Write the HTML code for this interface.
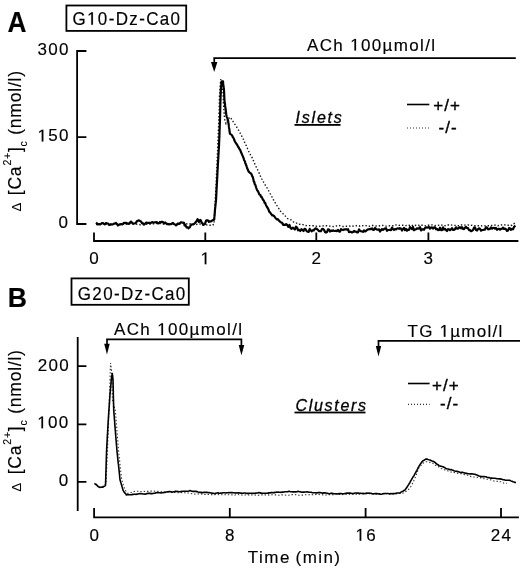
<!DOCTYPE html>
<html><head><meta charset="utf-8"><style>
html,body{margin:0;padding:0;background:#fff}
#w{position:relative;width:520px;height:569px;overflow:hidden;background:#fff;filter:grayscale(1)}
</style></head><body><div id="w">
<svg width="520" height="569" viewBox="0 0 520 569" style="position:absolute;left:0;top:0;font-family:'Liberation Sans',sans-serif">
<defs><style>
.one{fill:transparent;stroke:none}
text{stroke:#000;stroke-width:0.15px}
.br{stroke:#000;stroke-width:1.7;fill:none}
.ax{stroke:#000;stroke-width:1.8;fill:none;stroke-linecap:square}
.t{font-size:17px;letter-spacing:1.35px;fill:#000}
.lab{font-size:17px;letter-spacing:1.3px;fill:#000}
.lg{font-size:17px;letter-spacing:1px;stroke:#000;stroke-width:0.35px}
.sol{stroke:#000;stroke-width:2.2;fill:none;stroke-linejoin:round}
.dot{stroke:#111;stroke-width:1.4;fill:none;stroke-dasharray:1.4 2}
</style></defs>
<!-- Panel A -->
<text transform="translate(7.6,31.8) scale(0.92,1)" style="font-size:28.6px;font-weight:bold">A</text>
<rect x="66.4" y="5.5" width="119.8" height="25.4" fill="none" stroke="#000" stroke-width="1.8"/>
<text class="t" transform="translate(72.5 24.8) scale(1 1.065)">G<tspan class="one" id="one0">1</tspan>0-Dz-Ca0</text>
<path class="ax" d="M77.1,51 V224 M77.1,51 H85.5 M77.1,137.2 H85.5 M77.1,224 H85.5"/>
<text class="lab" x="69.8" y="54.8" text-anchor="end">300</text>
<text class="lab" x="69.8" y="141.4" text-anchor="end"><tspan class="one" id="one1">1</tspan>50</text>
<text class="lab" x="69.3" y="228" text-anchor="end">0</text>
<path class="ax" d="M94,241 H517.5 M94,241 V233.5 M205.3,241 V233.5 M316.3,241 V233.5 M428.4,241 V233.5"/>
<text class="lab" x="94.6" y="264.2" text-anchor="middle">0</text>
<text class="lab" x="205.9" y="264.2" text-anchor="middle"><tspan class="one" id="one2">1</tspan></text>
<text class="lab" x="316.9" y="264.2" text-anchor="middle">2</text>
<text class="lab" x="429" y="264.2" text-anchor="middle">3</text>
<path class="br" d="M213.3,58.05 H515.8 M214.25,57.2 V63" />
<path d="M211,62 L217.4,62 L214.2,72 Z" fill="#000"/>
<text class="t" x="307" y="50.6">ACh <tspan class="one" id="one3">1</tspan>00µmol/l</text>
<text x="295.5" y="123" style="font-size:16px;font-style:italic;letter-spacing:1.8px;stroke-width:0.3px">Islets</text>
<rect x="294.5" y="124" width="46" height="1.8" fill="#000"/>
<path d="M407,104.5 H429.3" stroke="#000" stroke-width="1.6"/>
<text x="433.3" y="111" class="lg">+/+</text>
<path d="M407,128 H429" stroke="#333" stroke-width="1.2" stroke-dasharray="1 2"/>
<text x="438.5" y="133" class="lg">-/-</text>
<polyline class="dot" points="96.0,224.6 97.0,224.4 98.0,224.7 99.0,224.5 100.0,224.2 101.0,223.8 102.0,223.3 103.0,223.5 104.0,223.4 105.0,223.3 106.0,223.6 107.0,224.0 108.0,224.3 109.0,224.4 110.0,224.3 111.0,224.5 112.0,224.4 113.0,224.4 114.0,224.1 115.0,224.0 116.0,223.8 117.0,223.8 118.0,223.9 119.0,224.1 120.0,224.2 121.0,224.0 122.0,224.1 123.0,224.1 124.0,223.9 125.0,223.9 126.0,224.1 127.0,223.8 128.0,223.8 129.0,223.5 130.0,223.6 131.0,223.7 132.0,223.8 133.0,223.8 134.0,223.9 135.0,223.9 136.0,223.9 137.0,224.2 138.0,224.2 139.0,224.5 140.0,224.7 141.0,224.7 142.0,224.6 143.0,224.6 144.0,224.6 145.0,224.2 146.0,224.2 147.0,224.1 148.0,223.9 149.0,223.8 150.0,224.0 151.0,223.8 152.0,223.8 153.0,223.9 154.0,223.7 155.0,223.5 156.0,223.6 157.0,223.4 158.0,223.3 159.0,223.5 160.0,223.5 161.0,223.7 162.0,224.1 163.0,224.0 164.0,223.7 165.0,223.8 166.0,223.8 167.0,223.8 168.0,223.8 169.0,224.1 170.0,224.1 171.0,224.4 172.0,224.3 173.0,224.3 174.0,223.9 175.0,224.1 176.0,223.9 177.0,224.1 178.0,223.9 179.0,223.8 180.0,223.8 181.0,223.6 182.0,223.4 183.0,223.3 184.0,223.4 185.0,223.8 186.0,223.8 187.0,223.9 188.0,223.7 189.0,223.4 190.0,223.8 191.0,224.0 192.0,224.1 193.0,224.2 194.0,224.4 195.0,224.6 196.0,224.6 197.0,224.3 198.0,224.2 199.0,224.0 200.0,224.0 201.0,223.8 202.0,224.2 203.0,224.6 204.0,224.7 205.0,224.8 206.0,224.9 207.0,224.9 208.0,225.0 209.0,225.1 210.0,225.3 211.0,225.3 212.0,225.5 213.0,224.8 214.0,224.4 214.1,223.6 214.1,222.3 214.2,221.4 214.2,220.3 214.3,219.3 214.3,218.6 214.4,217.6 214.4,216.5 214.5,215.3 214.5,214.3 214.6,213.3 214.6,212.5 214.7,211.5 214.7,210.4 214.8,209.4 214.8,208.2 214.9,207.4 214.9,206.5 215.0,205.5 215.1,204.2 215.1,203.4 215.2,202.4 215.2,201.3 215.2,200.5 215.3,199.3 215.3,198.4 215.4,197.3 215.4,196.5 215.5,195.4 215.6,194.4 215.6,193.2 215.7,192.3 215.7,191.2 215.8,190.4 215.8,189.5 215.8,188.2 215.9,187.3 215.9,186.3 216.0,185.3 216.1,184.4 216.1,183.5 216.2,182.4 216.2,181.3 216.2,180.5 216.3,179.3 216.3,178.4 216.4,177.4 216.4,176.4 216.5,175.4 216.5,174.2 216.6,173.4 216.6,172.3 216.7,171.4 216.7,170.5 216.8,169.4 216.8,168.1 216.9,167.3 216.9,166.4 216.9,165.5 217.0,164.4 217.0,163.4 217.1,162.2 217.1,161.5 217.2,160.4 217.2,159.4 217.2,158.5 217.3,157.5 217.3,156.2 217.4,155.4 217.4,154.4 217.5,153.2 217.5,152.4 217.6,151.4 217.6,150.2 217.6,149.4 217.7,148.2 217.7,147.4 217.8,146.3 217.8,145.2 217.8,144.4 217.9,143.3 217.9,142.2 218.0,141.5 218.0,140.2 218.0,139.2 218.1,138.3 218.1,137.5 218.2,136.4 218.2,135.4 218.2,134.3 218.3,133.4 218.3,132.3 218.4,131.3 218.4,130.3 218.4,129.2 218.5,128.2 218.5,127.4 218.6,126.2 218.6,125.4 218.6,124.4 218.7,123.3 218.7,122.4 218.8,121.4 218.8,120.5 218.8,119.2 218.9,118.2 218.9,117.3 218.9,116.3 218.9,115.3 219.0,114.2 219.0,113.4 219.0,112.5 219.1,111.3 219.1,110.3 219.1,109.3 219.1,108.3 219.2,107.5 219.2,106.2 219.2,105.4 219.2,104.3 219.3,103.3 219.3,102.4 219.3,101.1 219.4,100.4 219.4,99.2 219.4,98.3 219.4,97.4 219.5,96.3 219.5,95.2 219.6,94.3 219.7,93.0 219.7,92.2 219.8,91.0 219.9,90.0 220.0,89.1 220.1,88.0 220.1,86.9 220.2,85.8 220.3,84.7 220.4,83.7 220.5,82.6 220.5,81.6 220.6,80.8 220.7,79.4 221.3,80.8 222.0,81.8 222.1,82.8 222.2,83.8 222.3,84.7 222.4,85.9 222.5,86.8 222.6,88.0 222.7,88.9 222.8,90.2 222.9,91.2 222.9,92.0 223.0,93.1 223.0,94.2 223.1,95.0 223.1,96.0 223.2,97.0 223.2,98.0 223.3,99.2 223.3,100.1 223.4,101.1 223.4,102.3 223.5,103.1 223.5,104.3 223.6,105.3 223.7,106.2 223.7,107.4 223.8,108.2 223.9,109.4 223.9,110.5 224.0,111.3 224.1,112.4 224.2,113.5 224.2,114.5 224.3,115.5 224.4,116.5 224.4,117.6 224.5,118.5 224.8,119.7 225.1,120.5 225.4,121.6 225.7,122.6 226.0,123.5 226.5,122.5 227.0,121.4 227.5,120.7 228.0,119.5 229.9,117.1 230.7,118.1 231.4,118.9 232.2,120.4 232.9,121.3 233.7,122.5 234.5,123.7 235.2,124.7 236.0,125.9 236.6,126.9 237.1,127.9 237.7,128.8 238.3,129.8 238.8,130.7 239.4,131.9 239.9,132.7 240.5,133.8 241.1,134.9 241.6,135.8 242.2,136.9 242.7,138.2 243.2,139.0 243.7,140.0 244.2,141.1 244.6,142.2 245.1,143.3 245.6,144.3 246.1,145.4 246.6,146.5 247.1,147.6 247.6,148.8 248.1,149.8 248.6,150.9 249.1,152.1 249.6,152.8 250.0,153.7 250.5,154.9 251.0,155.6 251.5,156.7 252.0,157.4 252.5,158.6 252.9,159.7 253.4,160.6 253.8,161.8 254.3,162.8 254.7,163.8 255.2,165.0 255.6,165.7 256.1,166.7 256.5,167.6 257.0,168.4 257.5,169.5 257.9,170.4 258.4,171.4 258.9,172.5 259.4,173.8 259.9,174.9 260.3,175.9 260.8,176.9 261.4,178.0 261.9,179.1 262.5,180.0 263.1,181.1 263.7,182.4 264.2,183.2 264.8,184.4 265.4,185.3 266.0,186.3 266.6,187.0 267.1,188.0 267.7,189.3 268.3,190.1 268.9,191.3 269.5,192.4 270.1,193.5 270.8,194.7 271.4,196.0 272.0,197.0 272.6,198.5 273.2,199.5 273.8,200.3 274.4,201.6 275.0,202.4 275.7,203.5 276.3,204.6 276.9,205.5 277.5,206.6 278.1,207.5 278.8,208.5 279.4,209.8 280.0,210.8 281.1,211.7 282.2,212.7 283.3,214.0 284.4,214.8 285.5,216.2 286.6,217.3 287.7,218.6 288.8,219.0 289.9,219.5 291.0,219.8 292.1,220.8 293.2,221.8 294.3,222.6 295.4,223.1 296.4,223.1 297.4,223.2 298.5,223.6 299.5,224.3 300.5,224.3 301.5,224.2 302.6,224.5 303.6,224.7 304.6,225.1 305.6,225.5 306.7,225.6 307.7,225.6 308.7,225.6 309.7,225.6 310.8,225.7 311.8,225.7 312.8,225.7 313.8,225.8 314.8,225.8 315.9,226.1 316.9,226.3 317.9,226.1 318.9,226.2 319.9,226.2 320.9,226.2 321.9,225.8 322.9,225.9 323.9,225.7 324.9,225.6 325.9,225.7 326.9,225.7 327.9,225.8 328.9,226.0 329.9,226.1 330.9,226.2 331.9,226.2 332.9,226.6 333.9,226.5 334.9,226.4 335.9,226.2 336.9,225.8 337.9,225.6 339.0,225.4 340.0,225.8 341.0,226.1 342.0,226.3 343.0,226.5 344.0,226.5 345.0,226.4 346.0,226.3 347.0,226.3 348.0,226.4 349.0,226.3 350.0,226.0 351.0,225.6 352.0,226.0 353.0,226.1 354.0,226.3 355.0,226.0 356.0,225.8 357.0,225.5 358.0,225.8 359.0,225.8 360.0,226.3 361.0,225.9 362.0,226.0 363.0,225.6 364.0,225.6 365.0,225.7 366.0,225.6 367.0,225.9 368.0,226.3 369.0,226.3 370.0,226.1 371.0,225.8 372.0,225.5 373.0,225.5 374.0,225.7 375.0,225.8 376.0,226.0 377.0,226.0 378.0,226.1 379.0,226.0 380.0,225.6 381.0,225.5 382.0,225.5 383.0,225.4 384.0,225.3 385.0,225.7 386.0,226.1 387.0,226.1 388.0,226.0 389.0,225.9 390.0,225.7 391.0,225.8 392.0,225.8 393.0,225.8 394.0,225.8 395.0,225.3 396.0,224.9 397.0,225.3 398.0,225.2 399.0,225.4 400.0,225.3 401.0,225.2 402.0,225.3 403.0,225.3 404.0,225.5 405.0,225.7 406.0,225.6 407.0,225.1 408.0,225.0 409.0,225.2 410.0,225.6 411.0,226.1 412.0,225.6 413.0,225.1 414.0,224.9 415.0,225.3 416.0,225.5 417.0,225.7 418.0,225.5 419.0,225.3 420.0,224.7 421.0,224.8 422.0,225.2 423.0,225.3 424.0,225.2 425.0,225.6 426.0,225.9 427.0,225.5 428.0,225.3 429.0,225.0 430.0,224.9 431.0,224.9 432.0,224.9 433.0,225.3 434.0,225.3 435.0,225.7 436.0,225.5 437.0,225.4 438.0,225.4 439.0,225.1 440.0,225.0 441.0,224.8 442.0,225.1 443.0,225.5 444.0,226.0 445.0,225.8 446.0,225.2 447.0,225.1 448.0,225.0 449.0,224.7 450.0,224.9 451.0,224.9 452.0,225.1 453.0,225.1 454.0,225.3 455.0,225.4 456.0,225.6 457.0,225.6 458.0,225.7 459.0,225.8 460.0,225.3 461.0,225.0 462.0,224.9 463.0,224.9 464.0,225.0 465.0,225.1 466.0,225.1 467.0,225.0 468.0,224.9 469.0,225.2 470.0,225.0 471.0,225.4 472.0,225.3 473.0,225.7 474.0,225.7 475.0,225.6 476.0,225.6 477.0,225.7 478.0,225.7 479.0,226.0 480.0,225.8 481.0,225.8 482.0,225.9 483.0,225.7 484.0,225.6 485.0,225.9 486.0,225.7 487.0,225.9 488.0,225.7 489.0,225.7 490.0,225.6 491.0,225.4 492.0,225.5 493.0,225.0 494.0,225.0 495.0,225.1 496.0,225.0 497.0,225.4 498.0,225.7 499.0,225.4 500.0,225.3 501.0,224.9 502.0,225.0 503.0,224.9 504.0,224.7 505.0,224.9 506.0,225.1 507.0,225.0 508.0,225.2 509.0,225.5 510.0,225.8 511.0,225.5 512.0,225.1 513.0,223.9 514.0,223.6 515.0,222.8"/>
<polyline class="sol" points="96.0,222.6 97.0,223.4 98.0,224.5 99.0,224.1 100.0,224.5 101.0,223.9 102.0,223.1 103.0,223.1 104.0,224.0 105.0,224.4 106.0,223.0 107.0,223.3 108.0,223.5 109.0,225.0 110.0,224.9 111.0,224.2 112.0,224.6 113.0,224.2 114.0,223.6 115.0,223.6 116.0,222.9 117.0,224.2 118.0,225.5 119.0,224.5 120.0,224.6 121.0,224.1 122.0,224.5 123.0,223.8 124.0,222.8 125.0,223.2 126.0,222.7 127.0,223.6 128.0,223.4 129.0,223.9 130.0,222.6 131.0,221.6 132.0,222.7 133.0,223.8 134.0,223.5 135.0,223.4 136.0,222.7 137.0,221.1 138.0,220.7 139.0,220.3 140.0,221.0 141.0,221.4 142.0,223.2 143.0,223.3 144.0,224.5 145.0,223.9 146.0,222.7 147.0,222.7 148.0,223.0 149.0,222.7 150.0,223.3 151.0,222.8 152.0,222.1 153.0,222.6 154.0,222.5 155.0,222.4 156.0,222.0 157.0,222.3 158.0,223.4 159.0,223.2 160.0,221.9 161.0,222.4 162.0,221.7 163.0,222.0 164.0,223.5 165.0,222.5 166.0,223.2 167.0,224.1 168.0,223.9 169.0,224.5 170.0,224.0 171.0,224.2 172.0,223.5 173.0,222.9 174.0,224.1 175.0,224.5 176.0,225.4 177.0,224.7 178.0,223.5 179.0,224.0 180.0,223.1 181.0,222.2 182.0,222.6 183.0,222.7 184.0,222.8 184.6,225.4 185.3,225.0 185.9,226.2 186.6,227.3 187.2,227.2 187.9,227.4 188.5,228.4 189.2,227.6 189.9,227.2 190.6,225.3 191.3,225.0 192.0,224.4 193.0,224.5 194.0,224.0 195.0,223.0 195.8,222.0 196.7,220.9 197.5,219.2 198.0,219.8 198.5,221.4 199.0,222.0 199.8,220.3 200.5,219.9 201.1,221.3 201.8,222.9 202.4,223.0 203.0,224.9 204.0,224.4 205.0,223.9 205.5,222.4 206.0,220.8 206.5,220.3 207.0,220.4 208.0,220.3 209.0,221.9 210.0,221.3 211.0,221.5 212.0,220.6 213.1,220.0 214.2,219.6 214.3,219.2 214.3,217.4 214.4,216.9 214.5,215.9 214.6,215.1 214.7,214.3 214.7,212.7 214.8,212.7 214.9,210.7 215.0,209.8 215.1,208.5 215.2,208.0 215.3,206.9 215.4,205.4 215.5,205.3 215.6,203.9 215.7,202.9 215.8,202.4 215.9,201.8 216.0,200.5 216.1,199.0 216.1,198.3 216.2,197.6 216.2,195.6 216.3,195.0 216.3,193.4 216.4,193.9 216.4,192.0 216.5,191.5 216.5,190.0 216.6,189.6 216.6,188.5 216.7,187.7 216.7,186.2 216.8,185.9 216.9,183.5 216.9,183.2 217.0,182.2 217.0,181.8 217.1,180.6 217.1,179.2 217.2,178.1 217.2,177.9 217.3,176.1 217.3,175.2 217.4,174.4 217.4,173.6 217.5,171.8 217.5,171.1 217.6,170.1 217.7,168.7 217.7,167.5 217.8,166.7 217.8,165.7 217.9,164.8 218.0,162.8 218.0,162.6 218.1,161.7 218.1,160.6 218.2,159.5 218.3,158.6 218.3,157.5 218.4,156.3 218.4,155.3 218.5,154.4 218.6,152.4 218.6,152.4 218.7,150.7 218.7,150.3 218.8,149.0 218.9,147.9 218.9,147.4 219.0,145.7 219.0,145.0 219.1,144.3 219.1,142.4 219.2,141.3 219.2,140.6 219.2,140.3 219.3,138.8 219.3,137.3 219.4,137.3 219.4,135.6 219.4,134.5 219.5,134.3 219.5,133.0 219.5,131.8 219.6,130.8 219.6,130.1 219.6,129.1 219.7,128.5 219.7,127.6 219.7,125.7 219.8,125.2 219.8,123.9 219.9,122.7 219.9,122.2 219.9,121.6 220.0,120.7 220.0,119.3 220.0,118.2 220.1,116.6 220.1,115.5 220.1,115.0 220.1,114.0 220.2,112.4 220.2,112.1 220.2,111.3 220.2,109.9 220.2,108.9 220.3,108.1 220.3,107.7 220.3,105.7 220.3,105.0 220.4,103.9 220.4,103.6 220.4,101.5 220.4,101.6 220.5,100.5 220.5,98.6 220.5,98.6 220.6,96.9 220.6,95.9 220.7,95.3 220.7,93.6 220.8,93.8 220.8,92.3 220.8,90.7 220.9,90.0 220.9,89.3 221.0,87.9 221.0,87.2 221.1,86.1 221.2,85.9 221.3,85.1 221.4,83.2 221.5,82.2 221.6,81.4 223.0,81.3 223.1,82.4 223.2,83.9 223.4,85.7 223.5,85.7 223.6,87.1 223.8,88.4 223.9,89.4 224.0,90.7 224.1,91.8 224.1,93.1 224.2,93.2 224.2,94.6 224.2,95.9 224.3,95.9 224.3,97.9 224.4,98.4 224.4,99.2 224.5,100.5 224.6,101.7 224.7,103.0 224.9,103.1 225.0,104.2 225.1,105.8 225.2,106.5 225.3,107.5 225.5,107.8 225.6,108.9 225.7,109.2 225.8,111.2 225.9,111.8 226.1,113.0 226.2,113.9 226.3,114.7 226.6,116.2 226.9,117.3 227.2,117.6 227.4,118.3 227.7,119.6 228.0,119.8 228.2,121.7 228.3,122.6 228.5,123.3 228.6,123.7 228.8,125.5 228.9,126.7 229.1,127.9 229.3,128.8 229.4,129.8 229.6,131.6 229.7,131.8 229.9,133.7 231.1,134.4 232.3,135.8 232.9,137.3 233.6,138.1 234.2,139.6 234.8,141.3 235.4,142.3 235.9,143.0 236.5,144.0 237.0,144.7 237.6,145.6 238.1,146.8 238.7,147.3 239.2,148.6 239.8,149.5 240.3,150.2 240.9,152.0 241.4,153.0 241.8,153.9 242.3,155.1 242.8,156.3 243.2,157.3 243.7,158.4 244.1,160.1 244.6,160.8 244.9,161.2 245.2,162.8 245.5,163.7 245.8,164.0 246.1,165.2 246.5,165.7 246.8,167.0 247.1,167.9 247.4,168.8 247.7,169.4 248.6,171.5 249.6,172.6 250.6,173.2 251.5,174.3 251.8,174.9 252.1,175.7 252.4,176.7 252.7,176.8 253.1,178.2 253.4,179.5 253.7,181.1 254.0,181.9 254.3,181.9 254.6,183.8 255.2,184.7 255.8,186.4 256.3,188.0 256.9,189.7 257.5,190.7 258.1,191.5 258.6,192.6 259.2,194.1 259.8,194.7 260.4,195.0 260.9,196.8 261.5,196.7 262.0,197.6 262.5,198.7 263.1,200.0 263.6,200.2 264.1,201.2 264.6,202.9 265.2,202.8 265.7,204.3 266.2,205.5 267.0,207.0 267.7,208.0 268.5,209.6 269.2,211.6 270.0,212.3 270.8,213.5 271.5,214.4 272.3,215.5 273.4,215.4 274.5,216.6 275.6,218.1 276.7,219.4 277.8,219.2 278.9,220.5 280.0,221.7 281.0,222.4 282.1,222.7 283.1,224.8 284.1,224.7 285.2,225.0 286.2,224.1 287.3,225.1 288.4,226.9 289.5,225.0 290.5,228.0 291.6,228.8 292.7,227.7 293.8,228.5 294.9,229.5 296.0,226.7 297.0,227.5 298.1,230.3 299.2,229.9 300.3,231.0 301.4,229.2 302.4,230.0 303.5,231.0 304.6,228.8 305.6,229.3 306.7,231.3 307.7,231.6 308.7,231.8 309.7,228.9 310.8,230.5 311.8,231.3 312.8,230.2 313.8,230.5 314.8,228.9 315.9,228.3 316.9,229.0 317.9,229.9 318.9,231.2 319.9,231.2 320.9,231.2 321.9,229.1 322.9,228.9 324.0,229.8 325.0,232.0 326.0,232.6 327.0,232.1 328.0,229.4 329.0,229.6 330.0,231.5 331.0,230.5 332.0,231.0 333.0,230.3 334.0,230.9 335.0,231.0 336.0,230.7 337.0,231.2 338.0,229.9 339.0,231.4 340.0,231.7 341.0,229.1 342.0,229.7 343.0,230.1 344.0,229.6 345.0,229.4 346.0,229.3 347.0,229.6 348.0,229.2 349.0,232.2 350.0,231.8 351.0,231.9 352.0,232.5 353.0,232.0 354.0,230.9 355.0,231.8 356.0,231.5 357.0,232.3 358.0,232.3 359.0,229.4 360.0,230.6 361.0,231.2 362.0,231.5 363.0,231.8 364.0,230.3 365.0,231.4 366.0,230.9 367.0,230.0 368.0,229.4 369.0,229.3 370.0,228.9 371.0,229.1 372.0,228.3 373.0,229.8 374.0,229.8 375.0,227.9 376.0,229.0 377.0,229.6 378.0,229.7 379.0,229.3 380.0,231.5 381.0,230.2 382.0,229.1 383.0,229.9 384.0,229.1 385.0,228.6 386.0,228.2 387.0,230.8 388.0,230.0 389.0,230.0 390.0,229.9 391.0,230.2 392.0,227.6 393.0,229.0 394.0,230.0 395.0,229.2 396.0,229.3 397.0,228.5 398.0,228.3 399.0,228.8 400.0,228.1 401.0,228.7 402.0,230.5 403.0,229.0 404.0,227.9 405.0,230.2 406.0,228.8 407.0,230.7 408.0,229.7 409.0,230.0 410.0,227.0 411.0,228.3 412.0,229.2 413.0,227.0 414.0,230.3 415.0,229.6 416.0,229.2 417.0,228.3 418.0,228.7 419.0,228.4 420.0,227.2 421.0,230.4 422.0,229.4 423.0,229.3 424.0,229.8 425.0,227.9 426.0,227.3 427.0,227.7 428.0,227.4 429.0,227.0 430.0,228.6 431.0,227.6 432.0,227.3 433.0,228.6 434.0,227.4 435.0,227.3 436.0,229.2 437.0,228.9 438.0,230.2 439.0,230.0 440.0,227.7 441.0,230.2 442.0,230.1 443.0,227.4 444.0,229.6 445.0,228.8 446.0,230.0 447.0,231.0 448.0,229.2 449.0,229.4 450.0,230.3 451.0,229.3 452.0,228.1 453.0,230.0 454.0,229.9 455.0,229.1 456.0,227.3 457.0,228.7 458.0,228.6 459.0,227.8 460.0,227.2 461.0,228.4 462.0,227.1 463.0,229.0 464.0,229.2 465.0,227.7 466.0,226.8 467.0,228.1 468.0,228.0 469.0,230.1 470.0,230.0 471.0,231.2 472.0,230.7 473.0,230.1 474.0,227.6 475.0,227.4 476.0,230.0 477.0,230.5 478.0,229.1 479.0,228.3 480.0,228.8 481.0,230.7 482.0,230.0 483.0,230.0 484.0,229.7 485.0,229.6 486.0,227.2 487.0,227.5 488.0,229.3 489.0,229.2 490.0,228.9 491.0,227.5 492.0,228.7 493.0,228.0 494.0,227.9 495.0,228.7 496.0,228.0 497.0,229.8 498.0,229.0 499.0,228.7 500.0,229.6 501.0,228.8 502.0,228.9 503.0,227.7 504.0,229.0 505.0,228.6 506.0,229.4 507.0,230.9 508.0,230.5 509.0,228.1 510.0,228.3 511.0,229.8 512.0,228.9 513.0,229.3 514.2,226.6 515.5,225.8"/>
<!-- y label A -->
<g transform="translate(21.2,211.6) rotate(-90)"><text style="font-size:13.2px;stroke-width:0.05px">Δ</text></g>
<g transform="translate(20.8,195.2) rotate(-90)">
<text style="font-size:17.5px;letter-spacing:0.78px">[Ca<tspan dy="-10" style="font-size:10.5px">2+</tspan><tspan dy="10">]</tspan><tspan dy="5.8" style="font-size:10.5px">c</tspan><tspan dy="-5.8"> (nmol/l)</tspan></text>
</g>
<g transform="translate(21.4,491.8) rotate(-90)"><text style="font-size:13.4px;stroke-width:0.05px">Δ</text></g>
<g transform="translate(20.8,474.3) rotate(-90)">
<text style="font-size:17.5px;letter-spacing:0.78px">[Ca<tspan dy="-10" style="font-size:10.5px">2+</tspan><tspan dy="10">]</tspan><tspan dy="5.8" style="font-size:10.5px">c</tspan><tspan dy="-5.8"> (nmol/l)</tspan></text>
</g>
<!-- Panel B -->
<text transform="translate(7.7,307.3) scale(0.94,1)" style="font-size:28.3px;font-weight:bold">B</text>
<rect x="71.5" y="278.4" width="117.3" height="26.4" fill="none" stroke="#000" stroke-width="1.8"/>
<text class="t" transform="translate(77.8 299.6) scale(1 1.05)">G20-Dz-Ca0</text>
<path class="ax" d="M77.7,337.8 V510.2 M77.7,366.2 H85.5 M77.7,424.3 H85.5 M77.7,481.8 H85.5"/>
<text class="lab" x="70" y="370.6" text-anchor="end">200</text>
<text class="lab" x="69.5" y="428.3" text-anchor="end"><tspan class="one" id="one4">1</tspan>00</text>
<text class="lab" x="69.5" y="486.3" text-anchor="end">0</text>
<path class="ax" d="M94.1,517.4 H518 M94.1,517.4 V509 M229.8,517.4 V509 M365.6,517.4 V509 M501,517.4 V509"/>
<text class="lab" x="94.9" y="540.7" text-anchor="middle">0</text>
<text class="lab" x="230.4" y="540.7" text-anchor="middle">8</text>
<text class="lab" x="366.2" y="540.7" text-anchor="middle"><tspan class="one" id="one5">1</tspan>6</text>
<text class="lab" x="501.6" y="541" text-anchor="middle">24</text>
<text class="lab" x="247.8" y="562.9" style="letter-spacing:1.5px">Time</text><text class="lab" x="295.6" y="562.9" style="letter-spacing:1.4px">(min)</text>
<path class="br" d="M106.1,339.3 H242 M107,338.5 V345 M241.4,338.5 V346"/>
<path d="M104.2,343.8 L109.7,343.8 L106.95,354.5 Z" fill="#000"/>
<path d="M238.7,345 L244.3,345 L241.4,355.2 Z" fill="#000"/>
<text class="t" x="114" y="335">ACh <tspan class="one" id="one6">1</tspan>00µmol/l</text>
<path class="br" d="M377.6,340.8 H520 M378.5,340 V347"/>
<path d="M375.8,346 L381.2,346 L378.5,356.5 Z" fill="#000"/>
<text class="t" x="407.5" y="336.8" style="letter-spacing:1.25px">TG <tspan class="one" id="one7">1</tspan>µmol/l</text>
<text x="295.5" y="411.2" style="font-size:16px;font-style:italic;letter-spacing:1.7px;stroke-width:0.3px">Clusters</text>
<rect x="294.5" y="411.6" width="71" height="1.8" fill="#000"/>
<path d="M408,383.5 H429.6" stroke="#000" stroke-width="1.6"/>
<text x="432" y="390.5" class="lg">+/+</text>
<path d="M408,404.3 H429.6" stroke="#333" stroke-width="1.2" stroke-dasharray="1 2"/>
<text x="440" y="409" class="lg">-/-</text>
<polyline class="dot" style="stroke:#333;stroke-width:1.1" points="96.0,483.9 97.2,484.8 98.3,485.8 99.5,486.8 100.7,486.6 101.8,486.5 103.0,486.3 104.0,485.5 105.0,484.7 106.0,483.8 106.0,482.7 106.1,481.7 106.1,480.8 106.2,479.7 106.2,478.8 106.3,477.7 106.3,476.7 106.4,475.7 106.4,474.6 106.4,473.8 106.5,472.8 106.5,471.6 106.6,470.8 106.6,469.8 106.7,468.7 106.7,467.6 106.8,466.8 106.8,465.6 106.8,464.8 106.9,463.7 106.9,462.6 107.0,461.6 107.0,460.7 107.1,459.7 107.1,458.7 107.1,457.8 107.2,456.6 107.2,455.6 107.3,454.8 107.3,453.6 107.4,452.8 107.4,451.6 107.5,450.7 107.5,449.7 107.5,448.8 107.6,447.7 107.6,446.8 107.7,445.6 107.7,444.7 107.7,443.6 107.8,442.8 107.8,441.7 107.8,440.7 107.9,439.7 107.9,438.5 108.0,437.5 108.0,436.7 108.0,435.7 108.1,434.7 108.1,433.7 108.1,432.6 108.2,431.6 108.2,430.7 108.2,429.7 108.3,428.6 108.3,427.8 108.4,426.8 108.4,425.6 108.4,424.7 108.5,423.7 108.5,422.8 108.5,421.7 108.6,420.6 108.6,419.7 108.7,418.8 108.7,417.6 108.7,416.6 108.8,415.8 108.8,414.8 108.8,413.7 108.9,412.7 108.9,411.8 109.0,410.8 109.0,409.6 109.0,408.8 109.1,407.7 109.1,406.7 109.1,405.8 109.2,404.7 109.2,403.8 109.2,402.7 109.3,401.9 109.3,400.7 109.3,399.7 109.4,398.8 109.4,397.7 109.4,396.8 109.5,395.9 109.5,394.8 109.5,393.7 109.6,392.7 109.6,391.8 109.6,390.8 109.7,389.9 109.7,388.8 109.7,387.7 109.8,386.7 109.8,385.9 109.8,384.8 109.9,383.9 109.9,382.9 109.9,381.9 110.0,380.9 110.0,379.9 110.0,378.8 110.1,377.9 110.1,376.8 110.1,375.9 110.1,374.8 110.2,373.9 110.2,372.9 110.2,371.9 110.3,370.8 110.3,369.8 110.3,368.9 110.4,367.8 110.4,366.9 110.4,365.8 110.4,364.8 110.5,363.8 110.5,363.0 110.6,363.8 110.8,365.0 110.9,365.9 111.1,366.9 111.2,367.9 111.4,369.0 111.5,369.9 111.5,371.0 111.6,372.1 111.6,372.9 111.6,374.0 111.7,375.0 111.7,376.0 111.7,376.9 111.8,377.9 111.8,379.1 111.8,380.1 111.9,381.1 111.9,382.1 111.9,383.2 112.0,384.0 112.0,385.1 112.0,386.1 112.1,387.1 112.1,388.2 112.1,389.1 112.2,390.2 112.2,391.0 112.2,392.1 112.3,393.1 112.3,394.2 112.3,395.1 112.4,396.2 112.4,397.1 112.4,398.2 112.5,399.1 112.5,400.2 112.8,401.3 113.1,402.3 113.3,403.2 113.6,404.2 113.9,405.3 114.2,406.4 114.5,407.4 114.7,408.4 115.0,409.3 115.3,410.3 115.4,411.4 115.5,412.2 115.5,413.3 115.6,414.2 115.7,415.2 115.8,416.3 115.9,417.3 115.9,418.3 116.0,419.2 116.1,420.4 116.2,421.3 116.3,422.2 116.3,423.2 116.4,424.4 116.5,425.4 116.6,426.4 116.7,427.3 116.7,428.2 116.8,429.1 116.9,430.2 117.0,431.2 117.1,432.3 117.1,433.3 117.2,434.3 117.3,435.2 117.4,436.2 117.5,437.2 117.5,438.3 117.6,439.2 117.7,440.3 117.8,441.3 117.9,442.2 117.9,443.3 118.0,444.2 118.1,445.2 118.2,446.1 118.3,447.1 118.3,448.1 118.4,449.2 118.5,450.1 118.6,451.1 118.7,452.3 118.8,453.2 118.9,454.3 119.0,455.3 119.1,456.3 119.2,457.3 119.4,458.3 119.5,459.3 119.6,460.3 119.7,461.2 119.8,462.3 119.9,463.3 120.0,464.2 120.1,465.2 120.2,466.1 120.3,467.2 120.4,468.1 120.5,469.0 120.6,470.0 120.7,471.2 120.8,472.0 121.0,473.0 121.1,474.1 121.2,475.1 121.3,476.0 121.4,477.0 121.5,478.0 121.6,478.9 121.7,480.1 122.0,480.8 122.4,482.0 122.7,482.7 123.0,483.7 123.3,484.9 123.7,485.9 124.0,486.8 124.3,487.9 124.7,488.9 125.0,490.0 126.0,491.1 127.0,492.4 128.0,493.5 129.0,493.1 130.0,492.8 131.0,492.5 132.0,492.1 133.0,491.9 134.0,491.6 135.0,491.2 136.0,491.1 137.0,491.2 138.0,491.3 139.0,491.3 140.0,491.5 141.0,491.7 142.0,491.6 143.0,491.4 144.0,491.5 145.0,491.4 146.0,491.5 147.0,491.4 148.0,491.3 149.0,491.4 150.0,491.3 151.0,491.1 152.0,491.1 153.0,491.0 154.0,491.1 155.0,491.2 156.0,491.2 157.0,491.3 158.0,491.4 159.0,491.6 160.0,491.7 161.0,491.7 162.0,491.7 163.0,491.9 164.0,492.0 165.0,492.0 166.0,492.1 167.0,492.1 168.0,492.1 169.0,491.9 170.0,491.9 171.0,491.8 172.0,492.0 173.0,492.1 174.0,492.5 175.0,492.5 176.0,492.5 177.0,492.5 178.0,492.7 179.0,492.7 180.0,492.7 181.0,492.5 182.0,492.7 183.0,492.5 184.0,492.7 185.0,492.8 186.0,493.0 187.0,493.1 188.0,493.0 189.0,493.0 190.0,493.2 191.0,493.5 192.0,493.8 193.0,493.8 194.0,493.9 195.0,494.1 196.0,494.0 197.0,494.0 198.0,493.9 199.0,494.0 200.0,494.0 201.0,493.9 202.0,494.1 203.0,494.2 204.0,494.3 205.0,494.5 206.0,494.5 207.0,494.2 208.0,494.5 209.0,494.5 210.0,494.7 211.0,494.7 212.0,494.6 213.0,494.7 214.0,494.6 215.0,494.6 216.0,494.4 217.0,494.5 218.0,494.5 219.0,494.7 220.0,494.6 221.0,494.8 222.0,494.7 223.0,494.9 224.0,494.7 225.0,494.7 226.0,494.7 227.0,494.8 228.0,494.7 229.0,494.8 230.0,494.8 231.0,494.8 232.0,494.9 233.0,495.1 234.0,495.4 235.0,495.0 236.0,494.8 237.0,494.7 238.0,494.5 239.0,494.7 240.0,494.6 241.0,494.8 242.0,495.0 243.0,495.2 244.0,494.9 245.0,495.0 246.0,494.7 247.0,494.9 248.0,494.8 249.0,495.1 250.0,494.9 251.0,494.9 252.0,494.9 253.0,494.9 254.0,494.9 255.0,495.0 256.0,495.1 257.0,495.2 258.0,495.5 259.0,495.1 260.0,494.9 261.0,494.9 262.0,494.9 263.0,494.9 264.0,495.0 265.0,494.8 266.0,494.9 267.0,494.8 268.0,494.9 269.0,495.1 270.0,495.0 271.0,494.9 272.0,494.8 273.0,494.8 274.0,494.9 275.0,494.9 276.0,494.9 277.0,495.0 278.0,495.2 279.0,495.3 280.0,495.0 281.0,494.9 282.0,494.8 283.0,494.9 284.0,495.0 285.0,495.0 286.0,495.2 287.0,495.2 288.0,495.3 289.0,495.2 290.0,495.0 291.0,494.6 292.0,494.6 293.0,494.8 294.0,494.6 295.0,494.6 296.0,494.7 297.0,494.9 298.0,495.0 299.0,495.2 300.0,495.2 301.0,495.0 302.0,495.1 303.0,495.1 304.0,494.9 305.0,494.7 306.0,494.7 307.0,494.7 308.0,494.7 309.0,494.7 310.0,494.6 311.0,494.5 312.0,494.6 313.0,494.7 314.0,494.6 315.0,494.6 316.0,494.5 317.0,494.5 318.0,494.4 319.0,494.5 320.0,494.8 321.0,494.8 322.0,494.8 323.0,494.9 324.0,494.9 325.0,494.9 326.0,495.0 327.0,494.8 328.0,494.8 329.0,494.8 330.0,494.6 331.0,494.6 332.0,494.7 333.0,494.8 334.0,494.5 335.0,494.2 336.0,494.0 337.0,494.0 338.0,494.1 339.0,494.2 340.0,494.4 341.0,494.6 342.0,494.8 343.0,494.5 344.0,494.5 345.0,494.5 346.0,494.4 347.0,494.2 348.0,494.2 349.0,494.2 350.0,494.4 351.0,494.4 352.0,494.5 353.0,494.3 354.0,494.3 355.0,494.1 356.0,494.3 357.0,494.3 358.0,494.0 359.0,494.1 360.0,493.9 361.0,493.7 362.0,493.9 363.0,493.8 364.0,493.8 365.0,493.9 366.0,493.9 367.0,493.8 368.0,493.8 369.0,493.8 370.0,493.7 371.0,493.8 372.0,493.9 373.0,494.1 374.0,494.3 375.0,494.5 376.0,494.2 377.0,494.0 378.0,493.7 379.0,493.8 380.0,493.8 381.0,493.7 382.0,493.5 383.0,493.6 384.0,493.5 385.0,493.7 386.0,493.8 387.0,493.7 388.0,494.0 389.0,494.2 390.0,494.3 391.0,494.0 392.0,494.1 393.0,494.0 394.0,494.0 395.0,493.7 396.0,493.6 397.0,493.6 398.0,493.5 399.0,493.3 400.0,493.4 401.0,493.7 402.0,493.6 403.0,493.0 404.0,492.5 405.0,492.0 406.1,491.2 407.2,490.2 408.4,489.5 409.5,488.6 410.1,487.6 410.7,486.7 411.3,485.6 411.9,484.6 412.5,483.6 412.9,482.7 413.4,481.6 413.8,480.7 414.3,479.5 414.7,478.8 415.2,477.6 415.6,476.8 416.0,475.7 416.4,474.6 416.7,473.5 417.1,472.5 417.5,471.6 417.9,470.5 418.2,469.5 418.6,468.4 419.0,467.5 420.0,466.6 421.0,465.5 422.0,464.4 423.0,463.2 424.0,462.8 425.0,462.3 426.0,461.8 427.0,461.7 428.0,461.9 429.0,462.2 430.0,462.4 431.0,462.5 432.0,462.6 433.0,463.4 434.0,464.3 435.0,465.1 436.0,465.5 437.0,465.9 438.0,466.4 439.0,467.1 440.0,467.9 441.0,468.4 442.0,468.8 443.0,469.3 444.0,469.7 445.0,469.9 446.0,470.3 447.0,470.4 448.0,470.9 449.0,471.6 450.0,471.9 451.0,472.0 452.0,472.2 453.0,472.1 454.0,472.4 455.0,472.6 456.0,472.6 457.0,472.9 458.0,473.4 459.0,473.5 460.0,473.6 461.0,473.7 462.0,473.9 463.0,474.1 464.0,474.4 465.0,474.9 466.0,474.9 467.0,475.1 468.0,475.2 469.0,475.9 470.0,476.1 471.0,476.6 472.0,476.7 473.0,477.0 474.0,477.0 475.0,477.1 476.0,477.3 477.0,477.3 478.0,477.4 479.0,477.6 480.0,477.6 481.0,477.9 482.0,478.2 483.0,478.4 484.0,478.7 485.0,478.8 486.0,478.9 487.0,479.2 488.0,479.3 489.0,479.5 490.0,479.7 491.0,479.9 492.0,480.2 493.0,480.6 494.0,481.0 495.0,481.4 496.0,481.2 497.0,481.3 498.0,481.4 499.0,481.4 500.0,481.7 501.0,481.7 502.0,482.3 503.0,482.7 504.0,483.2 505.0,483.2 506.0,483.3 507.0,483.3"/>
<polyline class="sol" style="stroke-width:1.6" points="94.4,483.4 95.7,484.4 97.0,485.4 98.2,486.6 99.5,487.4 100.7,487.2 101.8,487.2 103.0,487.1 104.2,486.2 105.5,485.6 105.5,484.6 105.6,483.7 105.6,482.6 105.6,481.7 105.7,480.4 105.7,479.5 105.7,478.6 105.8,477.6 105.8,476.5 105.8,475.4 105.8,474.4 105.9,473.5 105.9,472.3 105.9,471.5 106.0,470.5 106.0,469.3 106.0,468.3 106.1,467.5 106.1,466.4 106.1,465.4 106.2,464.3 106.2,463.2 106.2,462.2 106.3,461.4 106.3,460.2 106.3,459.2 106.3,458.2 106.4,457.2 106.4,456.2 106.4,455.3 106.5,454.1 106.5,453.0 106.5,452.3 106.6,451.2 106.6,450.2 106.7,449.1 106.7,448.2 106.8,447.2 106.8,446.0 106.9,445.1 106.9,444.1 107.0,443.1 107.1,442.0 107.1,440.9 107.2,439.9 107.2,438.9 107.3,437.8 107.3,437.0 107.4,435.9 107.4,435.0 107.5,433.8 107.6,433.0 107.6,432.0 107.7,431.0 107.7,430.0 107.8,429.0 107.8,427.9 107.9,426.7 108.0,425.9 108.0,424.7 108.1,423.8 108.1,422.9 108.2,421.8 108.2,420.8 108.3,419.9 108.4,418.8 108.4,417.7 108.5,416.7 108.6,415.8 108.6,414.7 108.7,413.8 108.8,412.6 108.8,411.6 108.9,410.7 109.0,409.7 109.0,408.5 109.1,407.7 109.2,406.7 109.3,405.7 109.3,404.7 109.4,403.4 109.5,402.6 109.5,401.7 109.6,400.4 109.7,399.5 109.7,398.5 109.8,397.6 109.9,396.5 109.9,395.5 110.0,394.6 110.1,393.4 110.2,392.4 110.3,391.4 110.4,390.4 110.4,389.4 110.5,388.7 110.6,387.7 110.7,386.4 110.8,385.5 110.9,384.5 111.0,383.5 111.1,382.5 111.1,381.6 111.2,380.6 111.3,379.5 111.4,378.4 111.5,377.5 111.7,376.4 111.9,375.5 112.1,374.6 112.3,373.5 112.4,374.4 112.5,375.5 112.7,376.5 112.8,377.6 112.9,378.7 113.0,379.6 113.0,380.8 113.0,381.7 113.1,382.7 113.1,383.7 113.1,384.7 113.1,385.8 113.2,386.7 113.2,387.8 113.2,388.7 113.2,389.7 113.3,390.8 113.3,391.8 113.3,392.6 113.3,393.7 113.3,394.8 113.4,395.9 113.4,396.9 113.4,397.8 113.4,398.9 113.5,399.9 113.5,400.7 113.5,401.8 113.5,402.7 113.6,403.9 113.6,404.9 113.6,406.0 113.6,406.9 113.7,407.9 113.7,408.9 113.7,409.9 113.8,410.8 113.9,411.9 113.9,412.8 114.0,413.9 114.1,415.1 114.2,415.9 114.3,416.9 114.3,417.9 114.4,419.2 114.5,420.0 114.6,421.0 114.7,422.2 114.7,423.0 114.8,424.3 114.9,425.3 115.0,426.3 115.1,427.4 115.1,428.3 115.2,429.4 115.3,430.2 115.4,431.4 115.5,432.3 115.5,433.4 115.6,434.2 115.7,435.4 115.8,436.4 115.9,437.1 115.9,438.2 116.0,439.2 116.1,440.3 116.2,441.1 116.3,442.1 116.3,443.1 116.4,444.2 116.5,445.2 116.6,446.1 116.7,447.1 116.7,448.0 116.8,449.0 116.9,450.0 117.0,450.9 117.1,452.0 117.2,453.1 117.3,453.9 117.4,455.0 117.5,455.8 117.6,457.0 117.7,458.0 117.8,458.9 117.9,459.9 118.0,460.8 118.1,461.9 118.2,462.9 118.3,463.7 118.5,464.6 118.6,465.8 118.7,466.9 118.8,467.8 118.9,468.7 119.0,469.8 119.1,470.7 119.2,471.7 119.3,472.7 119.4,473.8 119.5,474.7 119.6,475.7 119.7,476.8 119.8,477.9 119.9,478.7 120.0,479.8 120.3,480.7 120.6,481.8 120.9,482.8 121.2,483.7 121.5,484.7 121.8,485.7 122.1,486.9 122.4,488.0 122.7,489.0 123.0,490.1 123.8,491.5 124.7,492.9 125.6,493.7 126.4,495.0 127.6,494.6 128.8,494.7 130.0,494.8 131.0,494.8 132.0,494.6 133.0,494.4 134.0,494.3 135.0,494.3 136.0,494.4 137.0,494.1 138.0,494.0 139.0,493.8 140.0,493.6 141.0,493.7 142.0,493.8 143.0,494.0 144.0,494.0 145.0,494.1 146.0,494.0 147.0,493.6 148.0,493.4 149.0,493.4 150.0,493.4 151.0,493.6 152.0,493.6 153.0,493.5 154.0,493.2 155.0,493.2 156.0,492.8 157.0,492.6 158.0,492.7 159.0,492.7 160.0,492.8 161.0,493.0 162.0,492.7 163.0,492.6 164.0,492.5 165.0,492.4 166.0,492.0 167.0,491.9 168.0,491.7 169.0,491.6 170.0,491.5 171.0,491.8 172.0,492.2 173.0,491.9 174.0,491.8 175.0,491.4 176.0,491.4 177.0,491.5 178.0,491.4 179.0,491.7 180.0,491.7 181.0,491.4 182.0,491.6 183.0,491.3 184.0,491.3 185.0,491.3 186.0,491.2 187.0,491.3 188.0,491.2 189.0,491.0 190.0,490.6 191.0,490.9 192.0,491.2 193.0,491.4 194.0,491.4 195.0,491.3 196.0,491.4 197.0,491.6 198.0,492.0 199.0,492.2 200.0,492.4 201.0,492.4 202.0,492.6 203.0,492.6 204.0,492.3 205.0,492.4 206.0,492.4 207.0,492.3 208.0,492.7 209.0,492.6 210.0,492.8 211.0,493.0 212.0,493.1 213.0,493.3 214.0,493.5 215.0,493.4 216.0,493.2 217.0,493.0 218.0,492.9 219.0,493.1 220.0,493.2 221.0,493.1 222.0,493.0 223.0,492.7 224.0,492.7 225.0,492.8 226.0,493.0 227.0,492.7 228.0,492.8 229.0,492.6 230.0,492.8 231.0,492.6 232.0,492.6 233.0,492.7 234.0,492.8 235.0,493.0 236.0,492.9 237.0,493.0 238.0,492.8 239.0,492.9 240.0,493.0 241.0,493.1 242.0,493.3 243.0,493.2 244.0,493.0 245.0,493.0 246.0,493.2 247.0,493.4 248.0,493.4 249.0,493.4 250.0,493.3 251.0,493.2 252.0,493.3 253.0,493.3 254.0,493.4 255.0,493.3 256.0,493.1 257.0,493.0 258.0,493.0 259.0,492.6 260.0,492.9 261.0,493.1 262.0,493.3 263.0,493.2 264.0,493.3 265.0,493.3 266.0,493.2 267.0,493.3 268.0,493.1 269.0,492.9 270.0,492.9 271.0,492.6 272.0,492.6 273.0,492.7 274.0,492.4 275.0,492.6 276.0,492.3 277.0,492.0 278.0,492.1 279.0,492.2 280.0,492.3 281.0,492.4 282.0,492.1 283.0,492.1 284.0,492.0 285.0,491.8 286.0,491.7 287.0,491.7 288.0,491.6 289.0,491.2 290.0,491.5 291.0,491.7 292.0,491.7 293.0,491.9 294.0,491.9 295.0,491.8 296.0,491.9 297.0,491.8 298.0,491.3 299.0,491.6 300.0,491.8 301.0,491.9 302.0,492.2 303.0,492.1 304.0,492.1 305.0,492.0 306.0,492.0 307.0,491.8 308.0,492.0 309.0,492.2 310.0,492.2 311.0,492.3 312.0,492.6 313.0,492.7 314.0,492.8 315.0,492.8 316.0,492.9 317.0,492.9 318.0,492.6 319.0,492.5 320.0,492.6 321.0,492.8 322.0,493.1 323.0,493.1 324.0,492.9 325.0,492.8 326.0,493.0 327.0,493.2 328.0,493.4 329.0,493.7 330.0,493.6 331.0,493.3 332.0,493.4 333.0,493.6 334.0,493.8 335.0,493.8 336.0,493.8 337.0,493.9 338.0,494.0 339.0,493.6 340.0,493.6 341.0,493.5 342.0,493.7 343.0,493.8 344.0,493.8 345.0,493.5 346.0,493.3 347.0,493.1 348.0,493.1 349.0,493.1 350.0,493.0 351.0,493.2 352.0,493.5 353.0,493.5 354.0,493.4 355.0,493.0 356.0,493.0 357.0,493.1 358.0,493.0 359.0,493.4 360.0,493.2 361.0,493.3 362.0,493.5 363.0,493.4 364.0,493.6 365.0,493.5 366.0,493.3 367.0,493.1 368.0,493.3 369.0,493.1 370.0,493.2 371.0,493.3 372.0,493.7 373.0,493.8 374.0,493.8 375.0,493.6 376.0,493.6 377.0,493.6 378.0,493.7 379.0,493.9 380.0,494.1 381.0,494.2 382.0,494.1 383.0,493.8 384.0,493.6 385.0,493.5 386.0,493.5 387.0,493.5 388.0,493.5 389.0,493.7 390.0,493.8 391.0,493.5 392.0,493.7 393.0,493.5 394.0,493.6 395.0,493.5 396.0,493.4 397.0,493.0 398.0,493.0 399.0,493.0 400.0,493.0 401.0,492.1 402.0,491.6 403.0,491.2 404.0,490.4 405.0,490.0 405.7,489.0 406.4,488.1 407.1,487.0 407.9,485.6 408.6,484.6 409.3,483.5 410.0,482.4 410.6,481.2 411.2,480.2 411.9,478.9 412.5,477.9 413.1,476.8 413.8,475.9 414.4,474.8 415.0,473.7 415.6,472.6 416.2,471.5 416.9,470.3 417.5,469.1 418.1,467.8 418.8,466.7 419.4,465.6 420.0,464.6 420.8,463.4 421.5,462.5 422.2,461.6 423.0,460.7 424.0,460.2 425.0,459.6 426.0,459.0 427.0,459.1 428.0,459.5 429.0,459.8 430.0,460.0 431.0,460.6 432.0,461.0 433.0,461.2 434.0,461.8 435.0,462.4 436.0,463.3 437.0,464.2 438.0,464.7 439.0,465.6 440.0,466.1 441.0,466.2 442.0,466.5 443.0,466.8 444.0,467.3 445.0,467.9 446.0,468.5 447.0,468.8 448.0,469.0 449.0,469.3 450.0,469.7 451.0,469.5 452.0,469.9 453.0,470.3 454.0,470.8 455.0,471.1 456.0,471.3 457.0,471.4 458.0,471.6 459.0,471.9 460.0,472.2 461.0,472.6 462.0,472.4 463.0,472.4 464.0,472.9 465.0,473.0 466.0,473.4 467.0,473.4 468.0,473.7 469.0,473.8 470.0,474.0 471.0,473.9 472.0,473.9 473.0,474.0 474.0,474.3 475.0,474.3 476.0,474.7 477.0,475.1 478.0,475.4 479.0,476.0 480.0,476.2 481.0,476.6 482.0,476.5 483.0,476.6 484.0,476.5 485.0,476.7 486.0,476.8 487.0,477.2 488.0,477.5 489.0,477.6 490.0,478.0 491.0,478.1 492.0,478.1 493.0,478.2 494.0,478.3 495.0,478.3 496.0,478.5 497.0,478.8 498.0,478.8 499.0,478.9 500.0,478.9 501.0,479.1 502.0,479.3 503.0,479.7 504.0,479.8 505.0,480.1 506.0,480.2 507.0,480.2 508.0,480.3 509.0,480.3 510.0,480.4 511.0,480.9 512.0,481.3 513.0,481.8 514.0,482.1 515.0,482.5 516.0,482.4"/>
<g transform="translate(72.5 24.8) scale(1 1.065)"><path d="M508,0 L508,1232 L197,1010 L197,1180 L530,1409 L703,1409 L703,0 Z" transform="translate(14.57,0.00) scale(0.008301,-0.008301)" fill="#000" stroke="#000" stroke-width="18.1"/></g>
<path d="M508,0 L508,1232 L197,1010 L197,1180 L530,1409 L703,1409 L703,0 Z" transform="translate(37.52,141.40) scale(0.008301,-0.008301)" fill="#000" stroke="#000" stroke-width="18.1"/>
<path d="M508,0 L508,1232 L197,1010 L197,1180 L530,1409 L703,1409 L703,0 Z" transform="translate(200.52,264.20) scale(0.008301,-0.008301)" fill="#000" stroke="#000" stroke-width="18.1"/>
<path d="M508,0 L508,1232 L197,1010 L197,1180 L530,1409 L703,1409 L703,0 Z" transform="translate(350.20,50.60) scale(0.008301,-0.008301)" fill="#000" stroke="#000" stroke-width="18.1"/>
<path d="M508,0 L508,1232 L197,1010 L197,1180 L530,1409 L703,1409 L703,0 Z" transform="translate(37.22,428.30) scale(0.008301,-0.008301)" fill="#000" stroke="#000" stroke-width="18.1"/>
<path d="M508,0 L508,1232 L197,1010 L197,1180 L530,1409 L703,1409 L703,0 Z" transform="translate(355.43,540.70) scale(0.008301,-0.008301)" fill="#000" stroke="#000" stroke-width="18.1"/>
<path d="M508,0 L508,1232 L197,1010 L197,1180 L530,1409 L703,1409 L703,0 Z" transform="translate(157.20,335.00) scale(0.008301,-0.008301)" fill="#000" stroke="#000" stroke-width="18.1"/>
<path d="M508,0 L508,1232 L197,1010 L197,1180 L530,1409 L703,1409 L703,0 Z" transform="translate(439.59,336.80) scale(0.008301,-0.008301)" fill="#000" stroke="#000" stroke-width="18.1"/>
</svg>
</div></body></html>
